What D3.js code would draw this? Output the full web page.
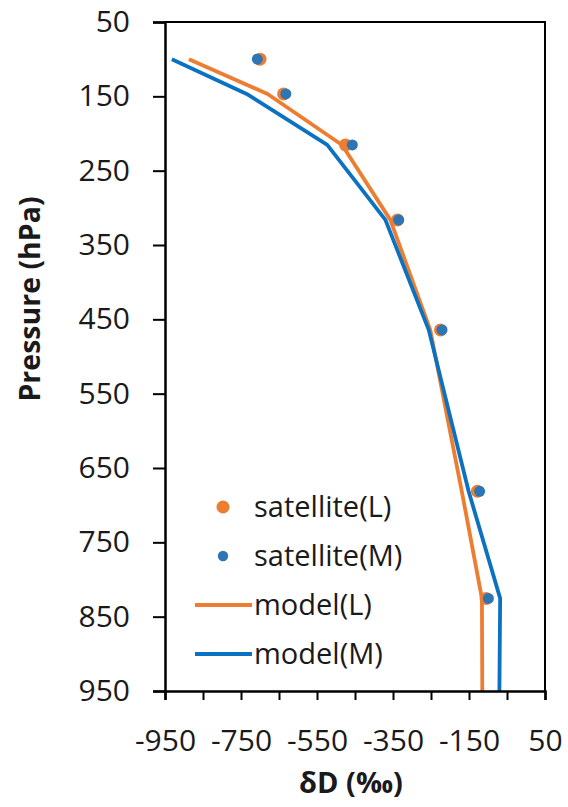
<!DOCTYPE html>
<html>
<head>
<meta charset="utf-8">
<script src="https://cdn.jsdelivr.net/npm/d3@7"></script>
<style>
  body { margin: 0; background: #fff; }
  text { font-family: "Open Sans", sans-serif; fill: #1a1a1a; }
</style>
</head>
<body>
<svg id="chart"></svg>
<script>
// pressure levels (hPa)
const satPressure = [100, 146.8, 215.4, 316.2, 464.2, 681.3, 825.4];
const modelPressure = [100, 146.8, 215.4, 316.2, 464.2, 681.3, 825.4, 950];

// dD values (permil)
const satL = [-700, -638, -475, -338, -225, -128, -105];
const satM = [-707, -632, -457, -335, -221, -122, -99];
const modelL = [-887, -680, -484, -357, -252, -169, -116, -115];
const modelM = [-932, -735, -523, -370, -256, -151, -68, -70];

const xTicks = [-950, -850, -750, -650, -550, -450, -350, -250, -150, -50, 50];
const xLabels = [-950, -750, -550, -350, -150, 50];
const yTicks = [50, 150, 250, 350, 450, 550, 650, 750, 850, 950];

const ORANGE = "#ED7D31";
const BLUE_LINE = "#0B72C1";
const BLUE_DOT = "#2E75B6";

const svg = d3.select("#chart");
svg.attr("width", 568).attr("height", 807);

const mLeft = 165, mRight = 545, mTop = 22, mBottom = 691;

const x = d3.scaleLinear().domain([-950, 50]).range([mLeft, mRight]);
const y = d3.scaleLinear().domain([50, 950]).range([mTop, mBottom]);

// box
svg.append("path")
    .attr("d", `M${mLeft},${mTop}H${mRight}V${mBottom}`)
    .attr("fill", "none")
    .attr("stroke", "#000")
    .attr("stroke-width", 2);

const line = d3.line()
    .x(d => x(d[0]))
    .y(d => y(d[1]));

const drawModel = (vals, color) => {
    svg.append("path")
        .datum(vals.map((v, i) => [v, modelPressure[i]]))
        .attr("d", line)
        .attr("fill", "none")
        .attr("stroke", color)
        .attr("stroke-width", 3.8)
        .attr("stroke-linejoin", "round");
};
drawModel(modelL, ORANGE);
drawModel(modelM, BLUE_LINE);

const drawSat = (vals, color, r) => {
    svg.append("g")
        .selectAll("circle")
        .data(vals.map((v, i) => [v, satPressure[i]]))
        .join("circle")
            .attr("cx", d => x(d[0]))
            .attr("cy", d => y(d[1]))
            .attr("r", r)
            .attr("fill", color);
};
drawSat(satL, ORANGE, 6.5);
drawSat(satM, BLUE_DOT, 5.5);

// axes
const yAxis = svg.append("g")
    .attr("transform", `translate(${mLeft},0)`)
    .call(d3.axisLeft(y).tickValues(yTicks).tickSize(12).tickPadding(23));
yAxis.select(".domain").attr("stroke-width", 2.5);
yAxis.selectAll(".tick line").attr("stroke-width", 2);
yAxis.selectAll("text").style("font-size", "30px").attr("fill", "#1a1a1a");

const xAxis = svg.append("g")
    .attr("transform", `translate(0,${mBottom})`)
    .call(d3.axisBottom(x).tickValues(xTicks).tickSize(9).tickPadding(30)
        .tickFormat(d => xLabels.includes(d) ? d : ""));
xAxis.select(".domain").attr("stroke-width", 2.5);
xAxis.selectAll(".tick line").attr("stroke-width", 2);
xAxis.selectAll("text").style("font-size", "30px").attr("fill", "#1a1a1a");

// titles
svg.append("text")
    .attr("x", 351)
    .attr("y", 793)
    .attr("text-anchor", "middle")
    .style("font-size", "29px")
    .style("font-weight", "bold")
    .text("δD (‰)");

svg.append("text")
    .attr("transform", "translate(40,299) rotate(-90)")
    .attr("text-anchor", "middle")
    .style("font-size", "28.5px")
    .style("font-weight", "bold")
    .text("Pressure (hPa)");

// legend
const legend = [
    {label: "satellite(L)", color: ORANGE, type: "dot", r: 6.5},
    {label: "satellite(M)", color: BLUE_DOT, type: "dot", r: 5.2},
    {label: "model(L)", color: ORANGE, type: "line"},
    {label: "model(M)", color: BLUE_LINE, type: "line"}
];
const lg = svg.append("g").attr("transform", "translate(0,507)");
legend.forEach((d, i) => {
    const g = lg.append("g").attr("transform", `translate(0,${i * 49})`);
    if (d.type === "dot") {
        g.append("circle").attr("cx", 223).attr("cy", 0).attr("r", d.r).attr("fill", d.color);
    } else {
        g.append("line").attr("x1", 195).attr("x2", 252).attr("y1", 0).attr("y2", 0)
            .attr("stroke", d.color).attr("stroke-width", 3.8);
    }
    g.append("text")
        .attr("x", 254)
        .attr("y", 9.5)
        .style("font-size", "29px")
        .text(d.label);
});
</script>
</body>
</html>
